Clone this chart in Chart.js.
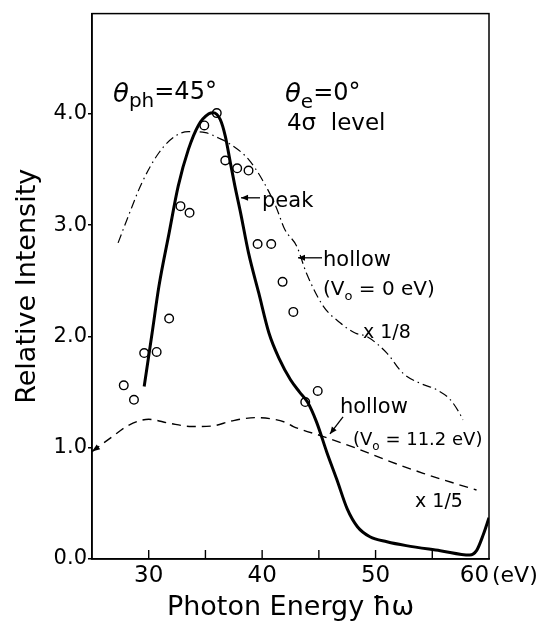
<!DOCTYPE html>
<html><head><meta charset="utf-8">
<script src="https://cdn.jsdelivr.net/npm/chart.js@4.4.0/dist/chart.umd.min.js"></script>
<style>html,body{margin:0;padding:0;background:#fff}</style>
</head><body>
<canvas id="c" width="547" height="622"></canvas>
<script>
// ---- data ----
const peakX = [29.6, 30.3, 30.9, 31.8, 32.6, 33.5, 34.4, 35.3, 35.7, 36.3, 36.75, 37.2, 37.6, 38.1, 38.8, 39.7, 40.6, 41.5, 42.5, 43.3, 44.0, 44.8, 45.7, 46.6, 47.5, 48.4, 49.5, 51.0, 52.7, 55.7, 58.3, 58.9, 59.5, 60.0];
const peakY = [1.55, 2.03, 2.45, 2.93, 3.35, 3.68, 3.90, 4.00, 4.01, 3.95, 3.80, 3.56, 3.35, 3.11, 2.75, 2.39, 2.03, 1.80, 1.61, 1.50, 1.41, 1.23, 0.96, 0.71, 0.45, 0.29, 0.20, 0.155, 0.12, 0.075, 0.036, 0.075, 0.22, 0.37];

const hollow0X = [27.3, 28.2, 29.4, 30.9, 32.35, 33.5, 35.0, 36.2, 37.3, 38.8, 40.0, 41.2, 42.0, 43.05, 43.9, 45.4, 46.9, 48.2, 49.2, 51.0, 52.4, 53.9, 55.4, 56.6, 57.4, 57.7];
const hollow0Y = [2.84, 3.08, 3.38, 3.65, 3.80, 3.84, 3.83, 3.78, 3.72, 3.59, 3.41, 3.17, 2.96, 2.81, 2.57, 2.27, 2.12, 2.03, 2.00, 1.85, 1.67, 1.58, 1.52, 1.43, 1.31, 1.25];

const hollow112X = [25.0, 26.8, 28.2, 30.0, 31.8, 33.8, 35.6, 37.3, 39.4, 42.0, 42.75, 45.4, 48.3, 51.3, 54.2, 57.15, 58.9];
const hollow112Y = [0.965, 1.10, 1.20, 1.255, 1.22, 1.19, 1.195, 1.24, 1.27, 1.23, 1.19, 1.10, 0.995, 0.875, 0.77, 0.674, 0.62];

const expX = [27.8, 28.7, 29.6, 30.7, 31.8, 32.8, 33.6, 34.9, 36.0, 36.75, 37.8, 38.8, 39.6, 40.8, 41.8, 42.75, 43.8, 44.9];
const expY = [1.56, 1.43, 1.85, 1.86, 2.16, 3.17, 3.11, 3.895, 4.006, 3.58, 3.51, 3.49, 2.83, 2.83, 2.49, 2.22, 1.41, 1.51];

const xTickLabels = {30: '30', 40: '40', 50: '50', 60: '60    '};
const yTickLabels = ['0.0', '1.0', '2.0', '3.0', '4.0'];
const xUnit = '(eV)';
const xTitle = 'Photon Energy \u0127\u03c9';
const yTitle = 'Relative Intensity';

const FONT = '"DejaVu Sans", sans-serif';
const pts = (xs, ys) => xs.map((x, i) => ({x: x, y: ys[i]}));

// ---- annotations (positions in data units) ----
const annotations = [
  {x: 26.85, y: 4.108, parts: [
    {t: '\u03b8', size: 26, italic: true},
    {t: 'ph', size: 20, dy: 5},
    {t: '=45\u00b0', size: 24, dy: -3}]},
  {x: 42.01, y: 4.108, parts: [
    {t: '\u03b8', size: 26, italic: true},
    {t: 'e', size: 20, dy: 6},
    {t: '=0\u00b0', size: 24, dy: -2}]},
  {x: 42.19, y: 3.856, parts: [{t: '4\u03c3', size: 23}, {t: '  level', size: 23}]},
  {x: 39.99, y: 3.164, parts: [{t: 'peak', size: 21}]},
  {x: 45.37, y: 2.634, parts: [{t: 'hollow', size: 21}]},
  {x: 45.37, y: 2.373, parts: [{t: '(V', size: 20}, {t: 'o', size: 13, dy: 5}, {t: ' = 0 eV)', size: 20}]},
  {x: 48.89, y: 1.987, parts: [{t: 'x 1/8', size: 19}]},
  {x: 46.86, y: 1.312, parts: [{t: 'hollow', size: 21}]},
  {x: 48.01, y: 1.025, parts: [{t: '(V', size: 18}, {t: 'o', size: 12, dy: 5}, {t: ' = 11.2 eV)', size: 18}]},
  {x: 53.48, y: 0.467, parts: [{t: 'x 1/5', size: 19}]}
];
const arrows = [
  {from: [39.81, 3.245], to: [38.14, 3.245]},
  {from: [45.28, 2.706], to: [43.16, 2.706]},
  {from: [47.13, 1.276], to: [45.98, 1.124]}
];

const decor = {
  id: 'decor',
  afterDraw(chart) {
    const ctx = chart.ctx, a = chart.chartArea;
    const xs = chart.scales.x, ys = chart.scales.y;
    ctx.save();
    ctx.strokeStyle = '#000'; ctx.fillStyle = '#000';
    ctx.lineWidth = 1.5;
    ctx.strokeRect(a.left, a.top, a.right - a.left, a.bottom - a.top);
    // inward x ticks
    ctx.lineWidth = 1.4;
    xs.ticks.forEach(t => {
      if (t.value > xs.min && t.value < xs.max) {
        const px = xs.getPixelForValue(t.value);
        ctx.beginPath(); ctx.moveTo(px, a.bottom); ctx.lineTo(px, a.bottom - 9); ctx.stroke();
      }
    });
    const head = (x0, y0, x1, y1, len, wid) => {
      const ang = Math.atan2(y1 - y0, x1 - x0);
      ctx.beginPath();
      ctx.moveTo(x1, y1);
      ctx.lineTo(x1 - len * Math.cos(ang) + wid * Math.sin(ang), y1 - len * Math.sin(ang) - wid * Math.cos(ang));
      ctx.lineTo(x1 - len * Math.cos(ang) - wid * Math.sin(ang), y1 - len * Math.sin(ang) + wid * Math.cos(ang));
      ctx.closePath(); ctx.fill();
    };
    // arrowhead at the start of the dashed curve
    head(xs.getPixelForValue(hollow112X[1]), ys.getPixelForValue(hollow112Y[1]),
         xs.getPixelForValue(hollow112X[0]), ys.getPixelForValue(hollow112Y[0]), 8, 3);
    // label arrows
    ctx.lineWidth = 1.3;
    arrows.forEach(ar => {
      const x0 = xs.getPixelForValue(ar.from[0]), y0 = ys.getPixelForValue(ar.from[1]);
      const x1 = xs.getPixelForValue(ar.to[0]), y1 = ys.getPixelForValue(ar.to[1]);
      ctx.beginPath(); ctx.moveTo(x0, y0); ctx.lineTo(x1, y1); ctx.stroke();
      head(x0, y0, x1, y1, 7, 3);
    });
    // text annotations
    ctx.textBaseline = 'alphabetic'; ctx.textAlign = 'left';
    annotations.forEach(an => {
      let px = xs.getPixelForValue(an.x);
      const py = ys.getPixelForValue(an.y);
      an.parts.forEach(p => {
        ctx.font = (p.italic ? 'italic ' : '') + p.size + 'px ' + FONT;
        ctx.fillText(p.t, px, py + (p.dy || 0));
        px += ctx.measureText(p.t).width;
      });
    });
    // unit after the last tick label
    ctx.font = '22px ' + FONT;
    ctx.fillText(xUnit, a.right + 3, a.bottom + 23);
    ctx.restore();
  }
};

new Chart(document.getElementById('c'), {
  type: 'scatter',
  data: {
    datasets: [
      {label: 'peak', data: pts(peakX, peakY), showLine: true, borderColor: '#000', borderWidth: 3,
       pointRadius: 0, cubicInterpolationMode: 'monotone'},
      {label: 'hollow V0=0 eV', data: pts(hollow0X, hollow0Y), showLine: true, borderColor: '#000', borderWidth: 1.2,
       borderDash: [9, 4, 1.5, 4], pointRadius: 0, cubicInterpolationMode: 'monotone'},
      {label: 'hollow V0=11.2 eV', data: pts(hollow112X, hollow112Y), showLine: true, borderColor: '#000', borderWidth: 1.4,
       borderDash: [9, 6], pointRadius: 0, cubicInterpolationMode: 'monotone'},
      {label: 'experiment', data: pts(expX, expY), showLine: false, pointStyle: 'circle', pointRadius: 4.3,
       pointBorderWidth: 1.4, pointBorderColor: '#000', pointBackgroundColor: 'rgba(255,255,255,0)'}
    ]
  },
  options: {
    responsive: false, animation: false, devicePixelRatio: 1,
    layout: {padding: {left: 0, right: 58, top: 13, bottom: 0}},
    plugins: {legend: {display: false}, tooltip: {enabled: false}},
    scales: {
      x: {
        type: 'linear', position: 'bottom', min: 25, max: 60,
        afterFit: s => { s.height = 63; },
        ticks: {stepSize: 5, autoSkip: false, maxRotation: 0, padding: 3, color: '#000',
          font: {family: FONT, size: 23},
          callback: v => xTickLabels[v] || ''},
        grid: {display: true, drawOnChartArea: false, drawTicks: false},
        border: {display: true, color: '#000', width: 1.5},
        title: {display: true, text: xTitle, color: '#000', font: {family: FONT, size: 27, lineHeight: 1}, padding: {top: 0, bottom: 1}}
      },
      y: {
        type: 'linear', min: 0, max: 4.9,
        afterFit: s => { s.width = 92; },
        ticks: {stepSize: 1, includeBounds: false, padding: 1, color: '#000',
          font: {family: FONT, size: 21},
          callback: v => Number.isInteger(v) ? yTickLabels[v] : ''},
        grid: {display: true, drawOnChartArea: false, drawTicks: true, tickLength: 4, color: '#000', lineWidth: 1.5},
        border: {display: true, color: '#000', width: 1.5},
        title: {display: true, text: yTitle, color: '#000', font: {family: FONT, size: 27, lineHeight: 1}, padding: {top: 14, bottom: 0}}
      }
    }
  },
  plugins: [decor]
});
</script>
</body></html>
